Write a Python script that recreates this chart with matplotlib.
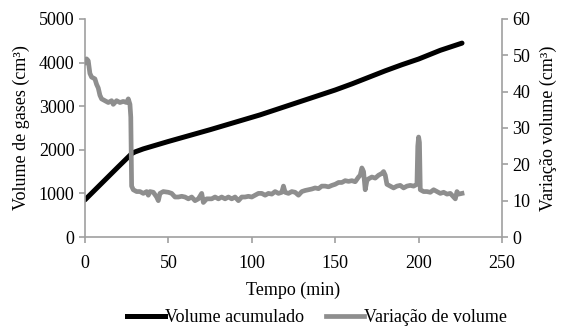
import matplotlib
matplotlib.use("Agg")
import matplotlib.pyplot as plt
from matplotlib.lines import Line2D

# Cumulative volume (left axis, cm3)
t_vol = [0, 10, 20, 28, 30, 35, 50, 75, 90, 105, 120, 135, 150, 160, 170, 180, 190, 200, 213, 226]
vol_acum = [850, 1230, 1610, 1910, 1950, 2020, 2190, 2460, 2630, 2800, 2990, 3180, 3370, 3510,
            3660, 3810, 3950, 4080, 4280, 4445]

# Volume variation (right axis, cm3)
t_var = [0, 1, 2, 3, 4, 6, 7, 8, 9, 10, 12, 14, 16, 17, 19, 21, 23, 25, 26, 27, 27.5, 28, 29,
         31, 33, 35, 37, 38, 39, 41, 43, 44, 45, 47, 50, 52, 54, 56, 58, 60, 62, 64, 66, 68, 70,
         71, 73, 76, 78, 80, 82, 84, 86, 88, 90, 92, 94, 96, 98, 100, 102, 104, 106, 108, 110,
         112, 114, 116, 118, 119, 120, 122, 124, 126, 128, 130, 132, 134, 136, 138, 140, 142,
         144, 146, 148, 150, 152, 154, 156, 158, 160, 162, 164, 165, 166, 167, 168, 169, 170,
         172, 174, 176, 178, 179, 180, 181, 183, 185, 187, 189, 191, 193, 195, 197, 199, 199.5,
         200, 200.5, 201, 203, 205, 207, 209, 211, 213, 215, 217, 219, 221, 222, 223, 224, 226]
var_vol = [48, 49, 48.5, 45, 44, 43.5, 42, 41, 39, 38, 37.5, 37, 37.5, 36.5, 37.5, 37, 37.3, 37, 38,
           36.5, 33, 14, 13, 12.5, 12.5, 12, 12.5, 11.5, 12.5, 12.3, 11, 10, 12, 12.5, 12.3, 12,
           11, 11, 11.2, 11, 10.5, 11, 10, 10.5, 12, 9.5, 10.5, 10.5, 11, 10.5, 11, 10.5, 11, 10.5,
           11, 10, 11, 11, 11.2, 11, 11.5, 12, 12, 11.5, 12, 11.8, 12.5, 12, 12.3, 14, 12.3, 12,
           12.5, 12.3, 11.5, 12.5, 12.8, 13, 13.2, 13.5, 13.3, 14, 14, 13.8, 14.2, 14.5, 15, 15,
           15.5, 15.3, 15.5, 15.2, 16.5, 17, 19, 18, 13, 15.5, 16, 16.5, 16.2, 17, 17.5, 18, 17,
           14.5, 14, 13.5, 14, 14.2, 13.5, 14, 14.2, 14, 14.5, 25, 27.5, 26, 13, 12.5, 12.5, 12.3,
           13, 12.5, 12, 12.3, 11.8, 12, 11, 10.5, 12.5, 11.8, 12]

x_ticks = [0, 50, 100, 150, 200, 250]
y1_ticks = [0, 1000, 2000, 3000, 4000, 5000]
y2_ticks = [0, 10, 20, 30, 40, 50, 60]

plt.rcParams['font.family'] = ['Liberation Serif', 'DejaVu Serif']
fs = 13

spine_c = '#a0a0a0'
gray_c = '#8e8e8e'

fig = plt.figure(figsize=(5.66, 3.26), dpi=100)
ax = fig.add_axes([0.150, 0.273, 0.737, 0.669])
ax2 = ax.twinx()

ax.plot(t_vol, vol_acum, color='black', lw=3.6, solid_capstyle='round', solid_joinstyle='round')
ax2.plot(t_var, var_vol, color=gray_c, lw=3.4, solid_joinstyle='round')

ax.set_xlim(0, 250)
ax.set_ylim(0, 5000)
ax2.set_ylim(0, 60)
ax.set_xticks(x_ticks)
ax.set_yticks(y1_ticks)
ax2.set_yticks(y2_ticks)

for a in (ax, ax2):
    a.spines['top'].set_visible(False)
    for s in ('left', 'right', 'bottom'):
        a.spines[s].set_color(spine_c)
        a.spines[s].set_linewidth(1.2)
    a.tick_params(color=spine_c, length=4, width=1.2, labelsize=fs, labelcolor='black')
ax.tick_params(axis='x', pad=9)
ax.spines['right'].set_visible(False)
ax2.spines['left'].set_visible(False)
ax2.spines['bottom'].set_visible(False)

ax.set_xlabel('Tempo (min)', fontsize=fs, labelpad=7)
ax.set_ylabel('Volume de gases (cm³)', fontsize=fs, labelpad=6)
ax2.set_ylabel('Variação volume (cm³)', fontsize=fs, labelpad=7)

handles = [Line2D([], [], color='black', lw=3.6), Line2D([], [], color=gray_c, lw=3.4)]
fig.legend(handles, ['Volume acumulado', 'Variação de volume'], loc='center',
           bbox_to_anchor=(0.56, 0.025), ncol=2, frameon=False, fontsize=fs,
           handlelength=2.1, handletextpad=0.0, columnspacing=1.2)

fig.savefig('out.png', dpi=100)
